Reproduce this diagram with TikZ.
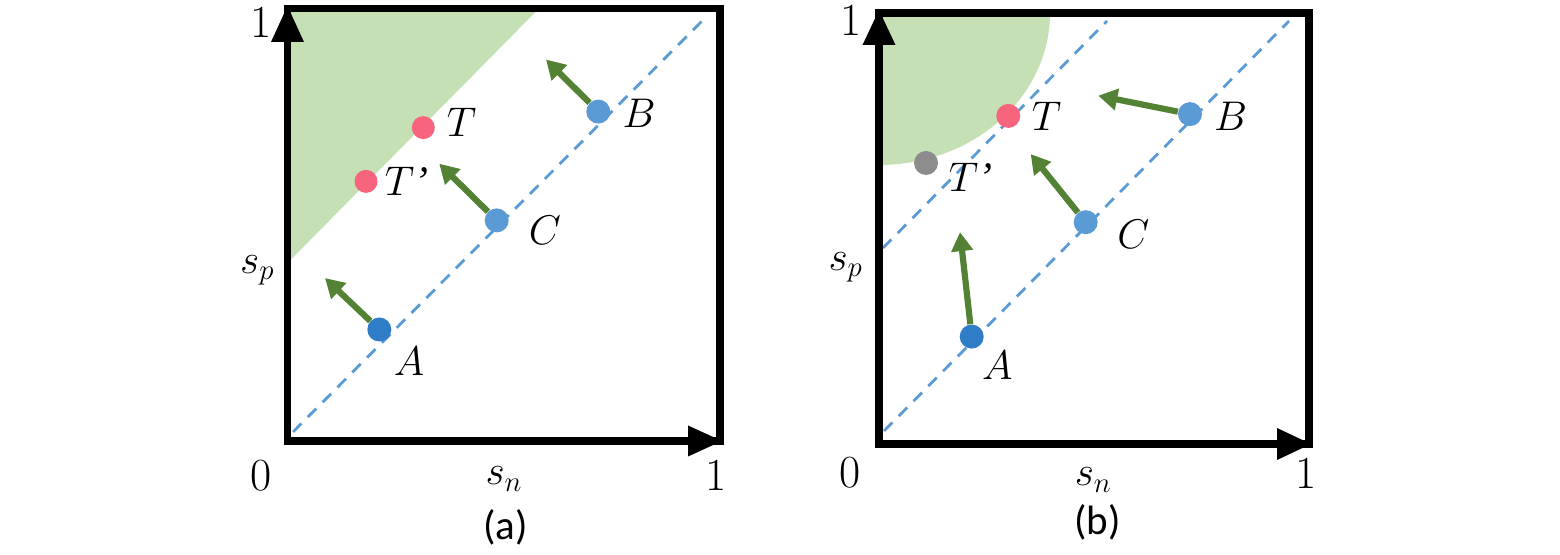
\documentclass[tikz,border=0pt]{standalone}
\usepackage{fontspec}
\newfontfamily\calib{Carlito}
\newfontfamily\libser{Liberation Serif}
\usetikzlibrary{arrows.meta}
\definecolor{lgreen}{RGB}{197,224,180}
\definecolor{dgreen}{RGB}{84,130,53}
\definecolor{lblue}{RGB}{91,155,213}
\definecolor{dblue}{RGB}{46,125,198}
\definecolor{pinkc}{RGB}{247,100,125}
\definecolor{grayc}{RGB}{140,140,140}
\newcommand{\prm}{{\libser\itshape ’}}
\begin{document}
\begin{tikzpicture}[x=0.5pt,y=-0.5pt,
  lab/.style={font=\fontsize{21}{25}\selectfont, inner sep=0pt},
  axl/.style={font=\fontsize{22.5}{26}\selectfont, inner sep=0pt},
  num/.style={font=\fontsize{23}{27}\selectfont, inner sep=0pt},
  capt/.style={font=\calib\fontsize{20.5}{24}\selectfont, inner sep=0pt},
  dot/.style={circle, minimum size=12pt, inner sep=0pt, draw=none},
  dotsm/.style={dot, minimum size=11.5pt},
  push/.style={draw=dgreen, line width=3.1pt, -{Triangle[length=9.5pt,width=10.5pt]}},
  diag/.style={draw=lblue, line width=1.4pt, dash pattern=on 6pt off 4.5pt},
  frame/.style={draw=black, line width=3.75pt}]

\useasboundingbox (0,0) rectangle (1560,555);

% ---------------- panel (a) ----------------
\fill[lgreen] (287.5,8.5) -- (539,8.5) -- (287.5,263) -- cycle;
\draw[diag] (293,432) -- (702,21);
\draw[frame] (287.5,8.5) rectangle (720,441);
\fill[black] (287.5,6) -- (304,42) -- (271,42) -- cycle;
\fill[black] (722,441) -- (688,425.5) -- (688,456.5) -- cycle;

\node[dot, fill=dblue] (aA) at (379.3,329.5) {};
\node[dot, fill=lblue] (aC) at (496.7,220.4) {};
\node[dot, fill=lblue] (aB) at (598.3,111.6) {};
\node[dotsm, fill=pinkc] (aT) at (423.3,127.6) {};
\node[dotsm, fill=pinkc] (aTp) at (366,181.4) {};

\coordinate (aAh) at (325,278.1);
\coordinate (aCh) at (439.3,163.7);
\coordinate (aBh) at (546,59.5);
\draw[push] (aA) -- (aAh);
\draw[push] (aC) -- (aCh);
\draw[push] (aB) -- (aBh);

\node[lab] (laA) at (409,361.4) {$A$};
\node[lab] (laB) at (639,113.4) {$B$};
\node[lab] (laC) at (545,230) {$C$};
\node[lab] (laT) at (461.7,122) {$T$};
\node[lab] (laTp) at (406.7,181.4) {$T$\prm};
\node[axl] (lasp) at (257.3,270) {$s_p$};
\node[axl] (lasn) at (504,479) {$s_n$};
\node[num] (la0) at (260.7,475.5) {0};
\node[num] (la1x) at (715.7,475.5) {1};
\node[num] (la1y) at (260.7,22) {1};
\node[capt] (lacap) at (505.7,527) {(a)};

% ---------------- panel (b) ----------------
\begin{scope}
  \clip (879,13) rectangle (1309,444);
  \fill[lgreen] (879,13) ellipse [x radius=85.5pt, y radius=76pt];
\end{scope}
\draw[diag] (884,431) -- (1289,21);
\draw[diag] (883,248) -- (1107,21);
\draw[frame] (879,13) rectangle (1309,444);
\fill[black] (879,10) -- (895.5,45) -- (862.5,45) -- cycle;
\fill[black] (1311,444) -- (1277,428) -- (1277,460) -- cycle;

\node[dot, fill=dblue] (bA) at (971.7,336.6) {};
\node[dot, fill=lblue] (bC) at (1085.7,222.2) {};
\node[dot, fill=lblue] (bB) at (1190,114.1) {};
\node[dot, fill=pinkc] (bT) at (1008.3,115.9) {};
\node[dot, fill=grayc] (bTp) at (926,163) {};

\coordinate (bAh) at (960,232.1);
\coordinate (bCh) at (1030.7,154.1);
\coordinate (bBh) at (1098.3,95.7);
\draw[push] (bA) -- (bAh);
\draw[push] (bC) -- (bCh);
\draw[push] (bB) -- (bBh);

\node[lab] (lbA) at (997.3,365.7) {$A$};
\node[lab] (lbB) at (1230.7,115.9) {$B$};
\node[lab] (lbC) at (1133.3,234.6) {$C$};
\node[lab] (lbT) at (1046.7,115.9) {$T$};
\node[lab] (lbTp) at (970.7,177.2) {$T$\prm};
\node[axl] (lbsp) at (845.7,267.5) {$s_p$};
\node[axl] (lbsn) at (1093.3,480) {$s_n$};
\node[num] (lb0) at (850,473) {0};
\node[num] (lb1x) at (1305.7,473) {1};
\node[num] (lb1y) at (850.7,20.2) {1};
\node[capt] (lbcap) at (1097.3,522.6) {(b)};
\end{tikzpicture}
\end{document}
